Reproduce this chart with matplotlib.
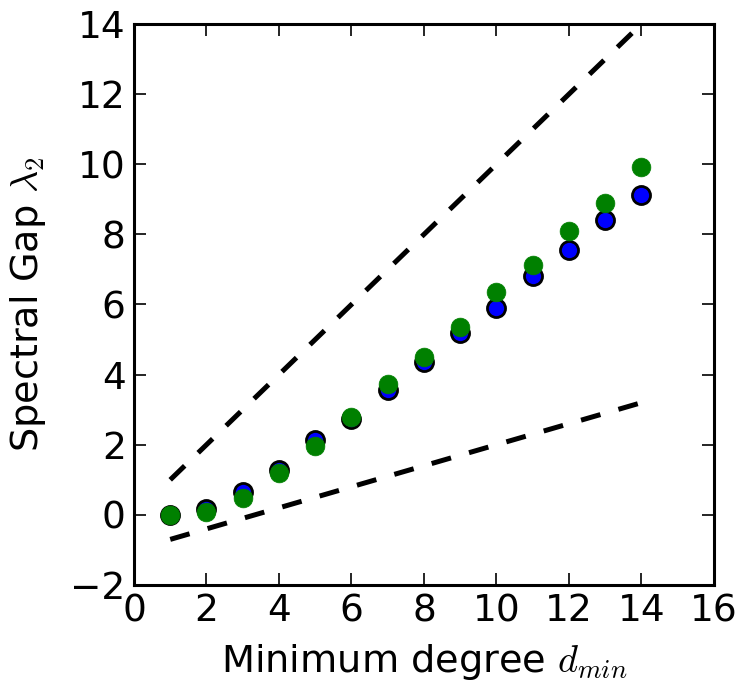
import matplotlib
matplotlib.use("Agg")
import matplotlib.pyplot as plt
import numpy as np

plt.rcParams['mathtext.fontset'] = 'cm'
plt.rcParams['font.family'] = ['DejaVu Sans']
plt.rcParams['lines.scale_dashes'] = False

d_min = [1, 2, 3, 4, 5, 6, 7, 8, 9, 10, 11, 12, 13, 14]
gap_blue = [0.0, 0.17, 0.65, 1.28, 2.13, 2.73, 3.56, 4.36, 5.19, 5.90, 6.81, 7.55, 8.41, 9.12]
gap_green = [0.0, 0.08, 0.48, 1.20, 1.97, 2.79, 3.73, 4.50, 5.36, 6.36, 7.13, 8.10, 8.90, 9.91]
upper_bound = [1, 2, 3, 4, 5, 6, 7, 8, 9, 10, 11, 12, 13, 14]
lower_bound = [-0.70, -0.40, -0.10, 0.20, 0.50, 0.80, 1.10, 1.40, 1.70, 2.00, 2.30, 2.60, 2.90, 3.20]

xticks = [0, 2, 4, 6, 8, 10, 12, 14, 16]
yticks = [-2, 0, 2, 4, 6, 8, 10, 12, 14]

fig = plt.figure(figsize=(7.51, 6.95), dpi=100)
ax = fig.add_axes([0.1784, 0.1583, 0.9507 - 0.1784, 0.9655 - 0.1583])

dash = (14.5, 13.5)
ax.plot(d_min, upper_bound, color='black', lw=3.6, dashes=dash, dash_capstyle='butt')
ax.plot(d_min, lower_bound, color='black', lw=3.6, dashes=dash, dash_capstyle='butt')

ax.plot(d_min, gap_blue, 'o', color='blue', markeredgecolor='black',
        markeredgewidth=2.0, markersize=13, linestyle='none')
ax.plot(d_min, gap_green, 'o', color='green', markeredgecolor='green',
        markeredgewidth=0.5, markersize=13.5, linestyle='none')

ax.set_xlim(0, 16)
ax.set_ylim(-2, 14)
ax.set_xticks(xticks)
ax.set_yticks(yticks)
ax.set_xticklabels([str(t) for t in xticks])
ax.set_yticklabels([str(t).replace('-', '\u2212') for t in yticks])

for s in ax.spines.values():
    s.set_linewidth(2.2)
ax.tick_params(direction='in', length=8.5, width=1.2, labelsize=27,
               top=True, right=True, pad=6)

ax.set_xlabel('Minimum degree $d_{min}$', fontsize=27.5, labelpad=9)
ax.set_ylabel('Spectral Gap $\\lambda_2$', fontsize=27.5, labelpad=16)

fig.savefig('out.png', dpi=100, facecolor='white')
